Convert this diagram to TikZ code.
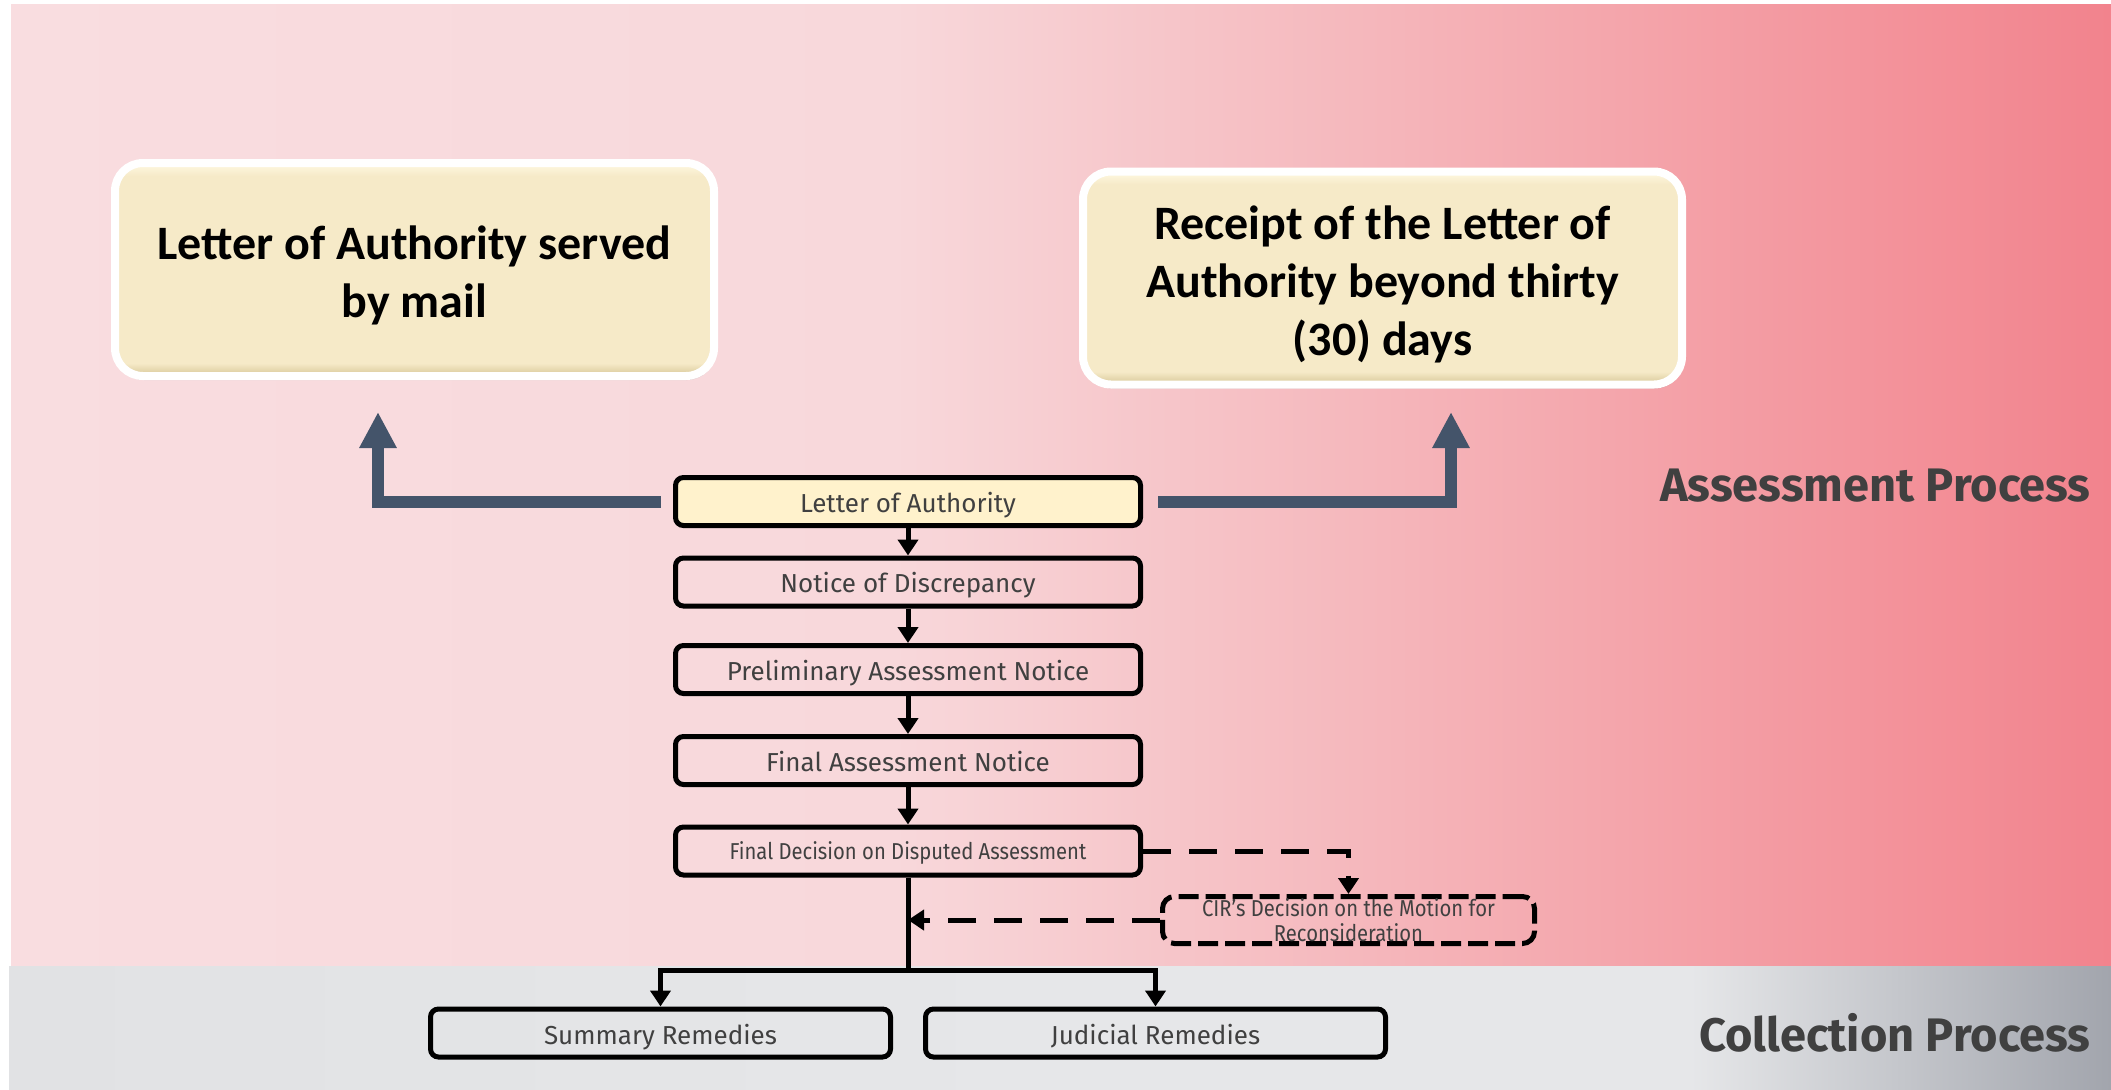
\documentclass[tikz,border=0pt]{standalone}
\usepackage{fontspec}
\setmainfont{Fira Sans}
\newfontfamily\calib{Carlito}
\newfontfamily\firacond[FakeStretch=0.88]{Fira Sans}
\usetikzlibrary{arrows.meta,shadows,calc}
\definecolor{pk0}{RGB}{249,221,224}
\definecolor{pk1}{RGB}{248,216,219}
\definecolor{pk2}{RGB}{246,196,200}
\definecolor{pk3}{RGB}{244,166,172}
\definecolor{pk4}{RGB}{242,131,141}
\definecolor{gy0}{RGB}{225,226,228}
\definecolor{gy1}{RGB}{230,231,233}
\definecolor{gy2}{RGB}{162,165,173}
\definecolor{slate}{RGB}{68,84,106}
\definecolor{txt}{RGB}{64,64,64}
\definecolor{loafill}{RGB}{255,242,204}
\definecolor{bg0}{RGB}{246,234,200}
\definecolor{bg1}{RGB}{214,198,150}
\definecolor{bg2}{RGB}{252,244,218}
\pgfdeclarehorizontalshading{pinkbg}{100bp}{color(0bp)=(pk0); color(25bp)=(pk0); color(46bp)=(pk1); color(53bp)=(pk2); color(63bp)=(pk3); color(75bp)=(pk4); color(100bp)=(pk4)}
\pgfdeclarehorizontalshading{graybg}{100bp}{color(0bp)=(gy0); color(25bp)=(gy0); color(50bp)=(gy1); color(65bp)=(gy1); color(75bp)=(gy2); color(100bp)=(gy2)}
\pgfdeclareverticalshading{beigebox}{100bp}{color(0bp)=(bg1); color(25bp)=(bg1); color(28bp)=(bg0); color(72bp)=(bg0); color(74bp)=(bg2); color(75bp)=(bg2); color(100bp)=(bg2)}
\newcommand{\bigtext}[1]{\raisebox{-3.75pt}[\height][\depth]{\begin{tabular}{@{}c@{}}#1\end{tabular}}}
\tikzset{
  bigbox/.style={draw=white, line width=4pt, rounded corners=14pt, shade, shading=beigebox,
    minimum width=299.5pt, minimum height=106.5pt, inner sep=0pt, text=black,
    font=\calib\bfseries\fontsize{24}{29}\selectfont,
    drop shadow={shadow xshift=0.6pt, shadow yshift=-2pt, opacity=0.3}},
  smallbox/.style={draw=black, line width=2.5pt, rounded corners=4pt, minimum width=232.5pt,
    minimum height=24pt, inner sep=0pt, text=txt, text height=11.3pt, text depth=0.5pt,
    font=\fontsize{13}{15}\selectfont},
  remedybox/.style={smallbox, minimum width=230pt, text height=12pt, text depth=0.5pt},
  cirbox/.style={draw=black, line width=2.5pt, rounded corners=6pt, dash pattern=on 10pt off 3.5pt,
    minimum width=186pt, minimum height=23.5pt, inner sep=0pt, text=txt, align=center,
    font=\firacond\fontsize{11.5}{12.5}\selectfont},
  flowarrow/.style={draw=black, line width=2.5pt, -{Triangle[width=10pt,length=8pt]}},
  flowline/.style={draw=black, line width=2.5pt},
  dasharrow/.style={draw=black, line width=2.5pt, dash pattern=on 14pt off 9pt,
    -{Triangle[width=10pt,length=8pt]}},
  slatearrow/.style={draw=slate, line width=6pt, line join=miter, -{Triangle[width=17.5pt,length=18pt]}},
  heading/.style={anchor=east, inner sep=0pt, text=txt, font=\bfseries\fontsize{23.5}{27}\selectfont}
}
\begin{document}
\begin{tikzpicture}[x=0.5pt,y=-0.5pt]
\useasboundingbox (0,0) rectangle (2111,1089);
\fill[white] (0,0) rectangle (2111,1089);
\shade[shading=pinkbg] (11,4) rectangle (2111,966);
\shade[shading=graybg] (9,966) rectangle (2111,1089);

% big boxes
\node[bigbox] (lbox) at (414.5,269.5) {\bigtext{Letter of Authority served\\by mail}};
\node[bigbox] (rbox) at (1382.5,278) {\bigtext{Receipt of the Letter of\\Authority beyond thirty\\(30) days}};

% headings
\node[heading] (ap) at (2091,486) {Assessment Process};
\node[heading] (cp) at (2091,1033) {Collection Process};

% flow boxes
\node[smallbox, fill=loafill] (loa) at (908,501.5) {Letter of Authority};
\node[smallbox] (nod) at (908,582) {Notice of Discrepancy};
\node[smallbox] (pan) at (908,669.5) {Preliminary Assessment Notice};
\node[smallbox] (fan) at (908,760.5) {Final Assessment Notice};
\node[smallbox, font=\firacond\fontsize{11.5}{13}\selectfont, text height=9pt, text depth=0.6pt] (fdda) at (908,851) {Final Decision on Disputed Assessment};
\node[cirbox] (cir) at (1348.5,920) {CIR’s Decision on the Motion for\\Reconsideration};
\node[remedybox] (sum) at (660.5,1033) {Summary Remedies};
\node[remedybox] (jud) at (1155.5,1033) {Judicial Remedies};

% slate arrows
\coordinate (ltip) at (378,412);
\coordinate (rtip) at (1451,412);
\draw[slatearrow] ([xshift=-6.25pt]loa.west) -| (ltip);
\draw[slatearrow] ([xshift=7.5pt]loa.east) -| (rtip);

% flow arrows
\draw[flowarrow] (loa.south) -- (nod.north);
\draw[flowarrow] (nod.south) -- (pan.north);
\draw[flowarrow] (pan.south) -- (fan.north);
\draw[flowarrow] (fan.south) -- (fdda.north);
\coordinate (j) at (908,970);
\draw[flowline] (fdda.south) -- (j);
\draw[flowarrow] (j) -| (sum.north);
\draw[flowarrow] (j) -| (jud.north);
\draw[dasharrow] (fdda.east) -| (cir.north);
\draw[dasharrow] (cir.west) -- (cir.west -| fdda.south);
\end{tikzpicture}
\end{document}
